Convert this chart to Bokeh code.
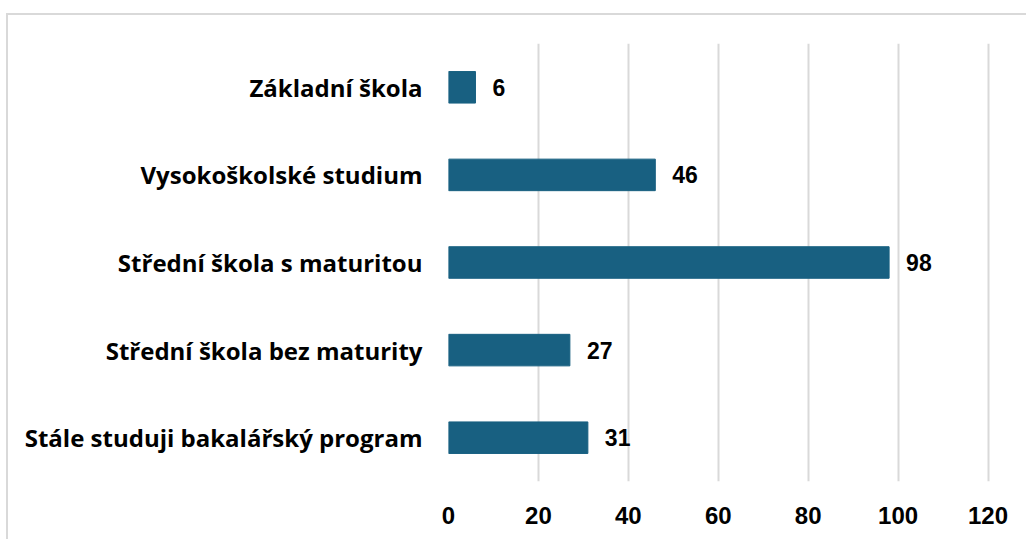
from bokeh.plotting import figure
from bokeh.models import ColumnDataSource, FactorRange, Range1d, LabelSet, FixedTicker
from bokeh.core.properties import value
from bokeh.embed import file_html
from bokeh.resources import INLINE

categories = ["Základní škola", "Vysokoškolské studium", "Střední škola s maturitou",
              "Střední škola bez maturity", "Stále studuji bakalářský program"]
values = [6, 46, 98, 27, 31]
x_ticks = [0, 20, 40, 60, 80, 100, 120]

src = ColumnDataSource(dict(cat=categories, val=values, lab=[str(v) for v in values]))

p = figure(width=1020, height=526, output_backend="svg", toolbar_location=None,
           y_range=FactorRange(*reversed(categories), range_padding=0),
           x_range=Range1d(0, 121),
           min_border_left=440, min_border_right=36, min_border_top=28, min_border_bottom=60)
p.margin = (13, 0, 0, 6)
p.styles = {"border-left": "2px solid #d9d9d9", "border-top": "2px solid #d9d9d9"}
p.outline_line_color = None

p.hbar(y="cat", right="val", left=0, height=0.36, source=src, fill_color="#186081", line_color="#186081")

labels = LabelSet(x="val", y="cat", text="lab", source=src, x_offset=17, y_offset=0,
                  text_baseline="middle", text_font=value("Liberation Sans"), text_font_style="bold",
                  text_font_size="23px", text_color="#000000")
p.add_layout(labels)

p.xaxis.ticker = FixedTicker(ticks=x_ticks)
p.xaxis.axis_line_color = None
p.xaxis.major_tick_line_color = None
p.xaxis.minor_tick_line_color = None
p.xaxis.major_label_text_font = "Liberation Sans"
p.xaxis.major_label_text_font_style = "bold"
p.xaxis.major_label_text_font_size = "24px"
p.xaxis.major_label_text_color = "#000000"
p.xaxis.major_label_standoff = 19

p.yaxis.axis_line_color = None
p.yaxis.major_tick_line_color = None
p.yaxis.minor_tick_line_color = None
p.yaxis.major_label_text_font = "Open Sans"
p.yaxis.major_label_text_font_style = "bold"
p.yaxis.major_label_text_font_size = "24px"
p.yaxis.major_label_text_color = "#000000"
p.yaxis.major_label_standoff = 20

p.xgrid.grid_line_color = "#d9d9d9"
p.xgrid.grid_line_width = 2
p.ygrid.grid_line_color = None

open("out.html", "w").write(file_html(p, INLINE))
